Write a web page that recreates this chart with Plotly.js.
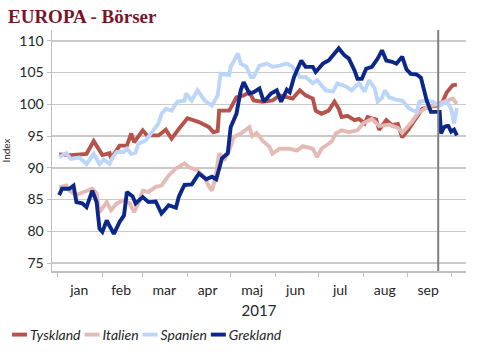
<!DOCTYPE html>
<html>
<head>
<meta charset="utf-8">
<script src="https://cdn.plot.ly/plotly-3.0.1.min.js"></script>
<style>
  html, body { margin: 0; padding: 0; background: #ffffff; }
  #chart { width: 488px; height: 358px; }
</style>
</head>
<body>
<div id="chart"></div>
<script>
// ---- data (year 2017, "MM-DD") ----
const seriesNames = ['Tyskland', 'Italien', 'Spanien', 'Grekland'];

const tysklandDates = ['01-02','01-10','01-21','01-26','02-01','02-06','02-07','02-13','02-18','02-21','02-23','03-01','03-04','03-12','03-17','03-21','03-26','04-01','04-09','04-16','04-19','04-22','04-23','04-30','05-05','05-10','05-14','05-17','05-23','05-30','06-04','06-09','06-13','06-18','06-22','06-27','06-29','07-03','07-08','07-12','07-15','07-17','07-21','07-26','07-29','08-02','08-04','08-10','08-12','08-17','08-21','08-25','08-28','09-01','09-04','09-08','09-11','09-16','09-21','09-25','09-28','10-02','10-05'];
const tysklandValues = [92.1,92.0,92.2,94.2,92.0,92.3,91.5,93.5,93.5,95.4,94.0,95.9,95.1,95.1,96.0,94.6,96.1,97.8,97.2,96.4,95.6,95.8,99.0,99.0,101.1,101.4,101.9,100.6,100.4,100.6,101.4,101.1,100.9,102.2,101.4,100.9,99.0,98.5,99.0,100.4,99.3,98.0,98.2,97.5,97.7,97.0,98.0,97.6,96.0,97.5,96.7,96.9,94.8,95.9,97.0,98.3,99.3,99.6,99.8,100.4,101.9,103.0,103.1];

const italienDates = ['01-02','01-07','01-09','01-14','01-19','01-25','01-28','01-30','02-04','02-07','02-11','02-16','02-20','02-23','02-26','03-01','03-05','03-10','03-14','03-19','03-24','03-30','04-02','04-08','04-13','04-16','04-18','04-20','04-23','04-27','04-30','05-03','05-08','05-14','05-16','05-19','05-23','05-28','05-30','06-04','06-11','06-16','06-20','06-27','06-30','07-03','07-10','07-13','07-17','07-22','07-28','08-01','08-07','08-12','08-19','08-25','08-28','09-01','09-04','09-08','09-14','09-21','09-28','10-02','10-05'];
const italienValues = [86.9,87.2,86.4,85.7,86.2,86.7,86.0,83.0,84.6,83.3,84.4,84.9,84.4,83.0,84.4,86.4,86.2,87.0,87.2,88.8,89.9,90.7,90.1,89.6,88.5,87.0,86.4,88.0,92.2,91.4,92.7,94.8,95.4,96.4,95.0,95.5,94.3,93.3,92.2,93.0,93.0,92.7,93.4,93.0,91.7,93.0,94.1,95.4,95.9,95.6,95.9,97.0,97.7,96.6,96.8,96.3,95.5,96.5,97.3,98.6,99.5,100.0,100.6,100.9,100.1];

const spanienDates = ['01-02','01-07','01-10','01-16','01-21','01-26','01-30','02-02','02-06','02-08','02-11','02-16','02-18','02-21','02-24','02-26','03-03','03-07','03-12','03-14','03-17','03-21','03-25','03-30','03-31','04-04','04-08','04-13','04-18','04-22','04-24','04-30','05-01','05-06','05-08','05-12','05-15','05-17','05-21','05-26','05-30','06-04','06-09','06-13','06-18','06-22','06-27','06-30','07-06','07-11','07-14','07-20','07-24','07-29','08-02','08-05','08-09','08-11','08-14','08-16','08-19','08-24','08-28','09-02','09-07','09-09','09-14','09-18','09-23','09-28','10-01','10-03','10-05'];
const spanienValues = [91.7,92.3,91.4,91.6,90.6,92.2,90.6,91.3,90.6,91.6,92.5,92.5,93.0,92.2,92.4,93.8,94.3,95.4,97.0,98.5,99.3,99.0,100.4,100.6,101.7,100.6,102.2,100.6,99.8,101.4,104.8,104.6,105.9,108.0,106.4,105.9,104.3,104.3,106.1,106.4,105.9,106.1,106.4,105.9,104.3,104.3,103.3,103.8,102.2,102.0,103.3,102.8,102.2,103.3,102.0,103.8,102.5,100.4,101.0,102.2,101.1,100.7,100.6,99.3,98.8,100.4,100.6,100.4,99.8,100.4,99.3,97.0,99.4];

const greklandDates = ['01-02','01-04','01-09','01-12','01-14','01-18','01-21','01-25','01-28','01-30','02-01','02-04','02-08','02-09','02-13','02-16','02-18','02-22','02-24','03-01','03-05','03-10','03-14','03-19','03-24','03-26','03-28','03-30','04-04','04-09','04-14','04-18','04-21','04-25','04-29','05-01','05-05','05-08','05-10','05-14','05-17','05-21','05-24','05-29','06-02','06-05','06-09','06-11','06-14','06-19','06-22','06-27','06-29','07-04','07-08','07-12','07-15','07-19','07-22','07-26','07-28','07-31','08-03','08-07','08-11','08-14','08-17','08-21','08-24','08-28','08-31','09-03','09-07','09-10','09-14','09-17','09-21','09-23','09-24','09-26','09-28','09-29','10-01','10-03','10-05'];
const greklandValues = [85.7,86.7,86.7,87.2,84.6,84.4,83.8,86.4,84.6,80.4,79.9,81.7,80.0,79.6,81.5,82.5,86.2,85.5,84.4,85.4,84.6,84.7,82.8,84.1,83.7,85.4,86.4,87.3,87.4,89.1,88.2,88.6,88.2,91.5,92.3,96.4,98.5,102.2,103.5,101.7,101.9,102.5,100.4,101.7,102.2,100.4,102.3,101.9,104.3,106.9,105.9,105.9,105.1,106.4,106.9,108.0,108.8,107.7,107.2,105.3,104.0,104.0,105.6,105.9,107.2,108.5,106.9,106.7,106.4,107.5,105.5,104.8,104.7,104.2,100.6,98.8,98.8,98.8,95.4,96.4,96.6,96.6,95.7,96.0,95.1];

const monthLabels = ['jan','feb','mar','apr','maj','jun','jul','aug','sep'];
const monthMidDates = ['2017-01-16','2017-02-14','2017-03-16','2017-04-15','2017-05-16','2017-06-15','2017-07-16','2017-08-16','2017-09-15'];
const monthStartDates = ['2017-01-01','2017-02-01','2017-03-01','2017-04-01','2017-05-01','2017-06-01','2017-07-01','2017-08-01','2017-09-01','2017-10-01'];
const yTicks = [75,80,85,90,95,100,105,110];
const markerDate = '2017-09-22';

// ---- styling ----
const colors = ['#b5534b', '#e4bab6', '#bcd6f9', '#0b2787'];
const full = a => a.map(d => '2017-' + d);
const xs = [tysklandDates, italienDates, spanienDates, greklandDates].map(full);
const ys = [tysklandValues, italienValues, spanienValues, greklandValues];

const traces = seriesNames.map((n, i) => ({
  type: 'scatter', mode: 'lines', name: n,
  x: xs[i], y: ys[i],
  line: { color: colors[i], width: 3.9, shape: 'linear' },
  hoverinfo: 'skip'
}));

const tickFont = { family: 'Lato, "DejaVu Sans", sans-serif', size: 14, color: '#262626' };

const layout = {
  width: 488, height: 358,
  margin: { l: 52, r: 22, t: 30, b: 87, autoexpand: false },
  paper_bgcolor: '#ffffff', plot_bgcolor: '#ffffff',
  showlegend: true,
  title: {
    text: 'EUROPA - Börser',
    font: { family: '"Liberation Serif", "Times New Roman", serif', size: 19, color: '#7a1529', weight: 'bold' },
    x: 8 / 488, xref: 'container', xanchor: 'left',
    y: 1 - 10 / 358, yref: 'container', yanchor: 'top'
  },
  xaxis: {
    type: 'date',
    range: ['2016-12-28 01:00', '2017-10-11 07:00'],
    tickmode: 'array', tickvals: monthMidDates, ticktext: monthLabels,
    ticks: '', ticklabelstandoff: 6,
    tickfont: tickFont,
    minor: { tickmode: 'array', tickvals: monthStartDates, ticks: 'outside', ticklen: 4, tickcolor: '#bfbfbf', tickwidth: 1, showgrid: false },
    showgrid: false, zeroline: false,
    showline: true, linecolor: '#bfbfbf', linewidth: 1.5,
    title: { text: '2017', font: { family: 'Lato, "DejaVu Sans", sans-serif', size: 15, color: '#262626' }, standoff: 9 },
    fixedrange: true
  },
  yaxis: {
    range: [73.75, 111.7],
    tickmode: 'array', tickvals: yTicks,
    ticks: 'outside', ticklen: 4, tickcolor: '#bfbfbf', tickwidth: 1,
    tickfont: tickFont,
    showgrid: true, gridcolor: '#c9c9c9', gridwidth: 1.6,
    zeroline: false,
    showline: true, linecolor: '#bfbfbf', linewidth: 1.5,
    title: { text: 'Index', font: { family: 'Lato, "DejaVu Sans", sans-serif', size: 10, color: '#262626' }, standoff: 12 },
    fixedrange: true
  },
  shapes: [{
    type: 'line', xref: 'x', yref: 'paper',
    x0: markerDate, x1: markerDate, y0: 0, y1: 1,
    line: { color: '#808080', width: 2 }
  }],
  legend: {
    orientation: 'h',
    xref: 'container', x: 0, xanchor: 'left',
    yref: 'container', y: 1 - 335 / 358, yanchor: 'middle',
    font: { family: 'Lato, "DejaVu Sans", sans-serif', size: 14, color: '#262626', style: 'italic' },
    itemwidth: 30, tracegroupgap: 0,
    bgcolor: 'rgba(0,0,0,0)'
  }
};

Plotly.newPlot('chart', traces, layout, { staticPlot: true, displayModeBar: false }).then(gd => {
  // compact legend: short swatches packed tightly like the original
  const items = Array.from(gd.querySelectorAll('.legend .traces'));
  if (!items.length) return;
  const parsed = items.map(g => {
    const m = /translate\(\s*([-\d.eE]+)[ ,]+([-\d.eE]+)\s*\)/.exec(g.getAttribute('transform') || '');
    return m ? [parseFloat(m[1]), parseFloat(m[2])] : [0, 0];
  });
  let T = parsed[0][0];
  items.forEach((g, i) => {
    const line = g.querySelector('.legendlines path');
    if (line) line.setAttribute('d', 'M5,0h15');
    const txt = g.querySelector('.legendtext');
    let w = 0;
    if (txt) {
      txt.setAttribute('x', 23);
      txt.querySelectorAll('tspan').forEach(t => { if (t.hasAttribute('x')) t.setAttribute('x', 23); });
      w = txt.getComputedTextLength();
    }
    g.setAttribute('transform', 'translate(' + T + ',' + parsed[i][1] + ')');
    T += 22 + w;
  });
  const firstLine = items[0].querySelector('.legendlines path');
  if (firstLine) {
    const left = firstLine.getBoundingClientRect().left;
    const dx = 12 - left;
    items.forEach((g, i) => {
      const m = /translate\(\s*([-\d.eE]+)[ ,]+([-\d.eE]+)\s*\)/.exec(g.getAttribute('transform'));
      g.setAttribute('transform', 'translate(' + (parseFloat(m[1]) + dx) + ',' + m[2] + ')');
    });
  }
});
</script>
</body>
</html>
